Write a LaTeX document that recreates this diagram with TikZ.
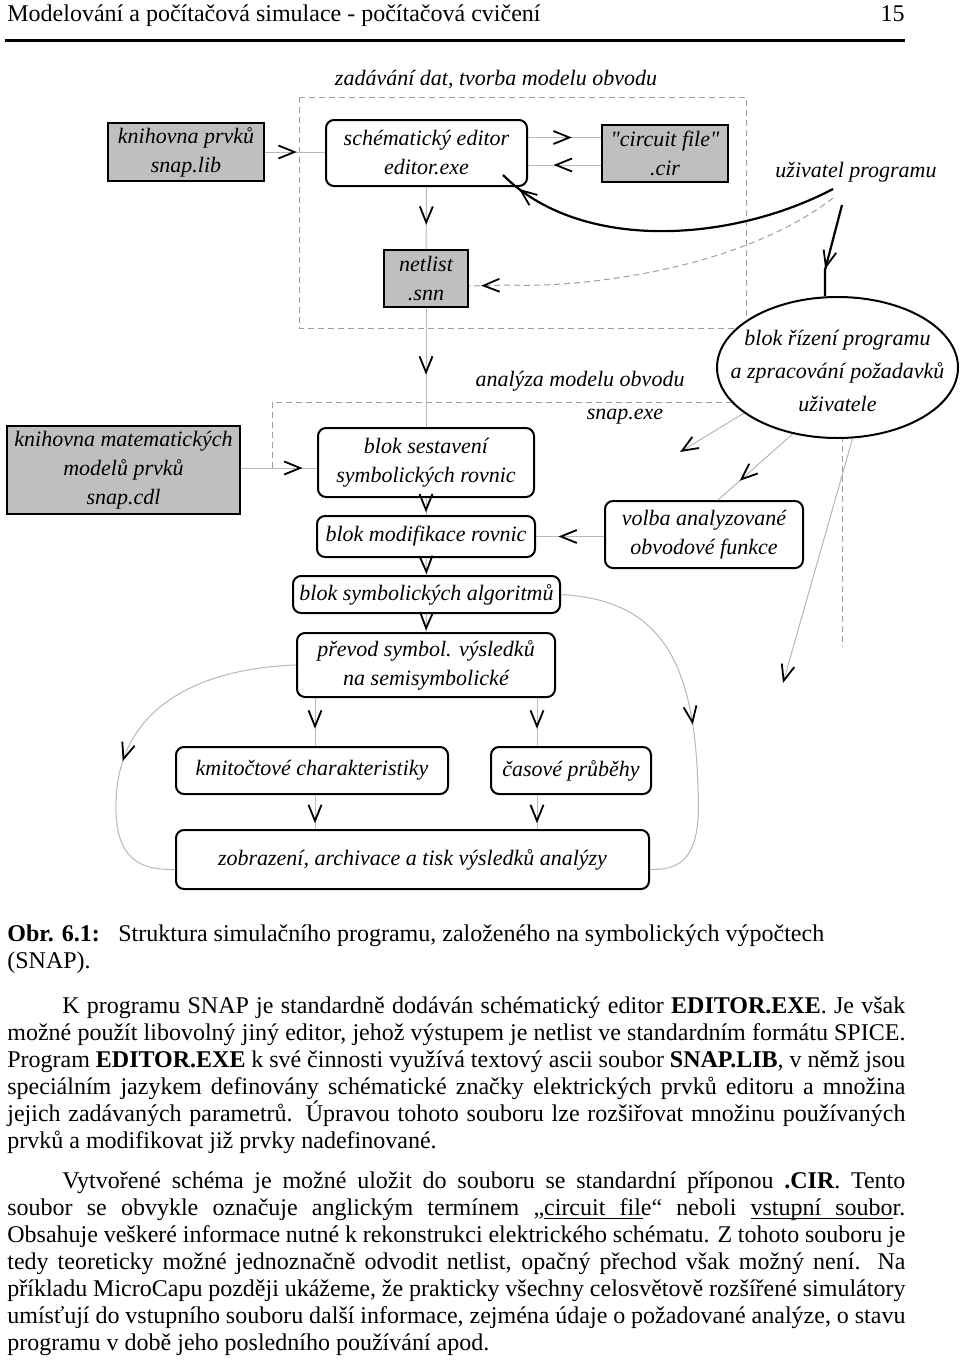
\documentclass[tikz,border=0pt]{standalone}
\usepackage{fontspec}
\setmainfont{Liberation Serif}
\newfontfamily\rawserif{Liberation Serif}
\usepackage{tikz}
\tikzset{>=latex}
\usetikzlibrary{backgrounds, arrows.meta}
\usetikzlibrary{shapes.geometric, decorations.markings}
\definecolor{boxgray}{gray}{0.75}
\definecolor{linegray}{gray}{0.72}
\definecolor{dashgray}{gray}{0.62}
\def\pagewidth{960}
\def\pageheight{1360}
\def\textleft{7}
\def\textright{905}
\def\boxfont{\fontsize{11}{14.5}\selectfont\itshape}
\def\ellfont{\fontsize{11}{16.5}\selectfont\itshape}
\def\bodyfont{\fontsize{12}{13.5}\selectfont}
\newcommand\undertext[1]{\setbox0\hbox{#1}\rlap{\rule[-2pt]{\wd0}{0.5pt}}#1}
\tikzset{
  chev/.tip={Straight Barb[length=8pt, width=6.5pt, line width=0.9pt, color=black]},
  grbox/.style={draw, line width=1pt, fill=boxgray, font=\boxfont, align=center, inner sep=0pt},
  rbox/.style={draw, line width=1pt, rounded corners=4pt, fill=white, font=\boxfont, align=center, inner sep=0pt},
  lbl/.style={font=\boxfont, align=center, inner sep=0pt},
  conn/.style={draw=linegray, line width=0.5pt},
  dline/.style={draw=dashgray, line width=0.5pt, dash pattern=on 3pt off 2pt},
  uline/.style={draw=black, line width=1.1pt},
  midarr/.style={postaction={decorate}, decoration={markings, mark=at position #1 with {\arrow{chev}}}}
}

\begin{document}
\begin{tikzpicture}[x=0.5pt, y=-0.5pt]

\useasboundingbox (0,0) rectangle (\pagewidth,\pageheight);

% Page head
\node[anchor=base west, inner sep=0pt, font=\bodyfont] (head) at (\textleft,21) {Modelování a počítačová simulace - počítačová cvičení};
\node[anchor=base east, inner sep=0pt, font=\bodyfont] (pagenum) at (\textright,21) {15};
\draw[line width=1.5pt] (5,40) -- (905,40);

% Editor part
\node[lbl] (zadavani) at (496,80) {zadávání dat, tvorba modelu obvodu};
\node[grbox, minimum width=78pt, minimum height=29pt] (slib) at (186,152) {knihovna prvků\\snap.lib};
\node[rbox, minimum width=100.5pt, minimum height=33pt] (editor) at (426.5,153) {schématický editor\\editor.exe};
\node[grbox, minimum width=63pt, minimum height=28.5pt] (cir) at (665,153.5) {{\rawserif "circuit file"}\\.cir};
\node[grbox, minimum width=42pt, minimum height=28.5pt] (netlist) at (426,278.5) {netlist\\.snn};
\node[lbl] (uzivatel) at (856,172) {uživatel programu};

% Analysis part
\node[lbl] (analyza) at (580,381) {analýza modelu obvodu};
\node[lbl] (snapexe) at (625,417) {snap.exe};
\node[draw, ellipse, line width=1pt, fill=white, minimum width=120.5pt, minimum height=70.5pt, inner sep=0pt] (ctrl) at (837.5,367.5) {};
\node[lbl, font=\ellfont] (ctrltxt) at (837.5,371) {blok řízení programu\\a zpracování požadavků\\uživatele};
\node[grbox, minimum width=116.5pt, minimum height=44pt] (cdl) at (123.5,470) {knihovna matematických\\modelů prvků\\snap.cdl};
\node[rbox, minimum width=108pt, minimum height=34.5pt] (sestav) at (426,462.5) {blok sestavení\\symbolických rovnic};
\node[rbox, minimum width=109pt, minimum height=20.5pt] (modif) at (426,536.5) {blok modifikace rovnic};
\node[rbox, minimum width=99pt, minimum height=33.5pt] (volba) at (704,534.5) {volba analyzované\\obvodové funkce};
\node[rbox, minimum width=133.5pt, minimum height=18.5pt] (algor) at (426.5,594.5) {blok symbolických algoritmů};
\node[rbox, minimum width=129pt, minimum height=32pt] (prevod) at (426,665) {převod symbol. výsledků\\na semisymbolické};

% Results part
\node[rbox, minimum width=136pt, minimum height=23.5pt] (kmit) at (312,770.5) {kmitočtové charakteristiky};
\node[rbox, minimum width=80pt, minimum height=23.5pt] (casove) at (571,770.5) {časové průběhy};
\node[rbox, minimum width=236.5pt, minimum height=29.5pt] (zobraz) at (412.5,859.5) {zobrazení, archivace a tisk výsledků analýzy};

% Dashed frames
\begin{scope}[on background layer]
\fill[white] (0,0) rectangle (\pagewidth,\pageheight);
\draw[dline] (299,97) rectangle (746,328);
\draw[dline] (272,468) -- (272,402) -- (842,402) -- (842,647);
\end{scope}

% Helper points
\coordinate (hup) at (0,137.5);
\coordinate (hlow) at (0,165);
\coordinate (hcdl) at (0,468);
\coordinate (hnet) at (0,286);
\coordinate (kl) at (315,0);
\coordinate (kr) at (537,0);
\coordinate (usr1) at (833,189);
\coordinate (usr2) at (833,198);
\coordinate (usr3) at (842,205);
\coordinate (kink) at (825,270);
\coordinate (edcorner) at (503,175);
\coordinate (dn1) at (510,285);
\coordinate (freea) at (680,452);
\coordinate (freeb) at (783,683);
\coordinate (lc) at (116,800);
\coordinate (rc) at (698,790);

% Top connectors
\draw[conn, midarr=0.53] (slib.east) -- (editor.west |- slib.east);
\draw[conn, midarr=0.6] (editor.east |- hup) -- (cir.west |- hup);
\draw[conn, midarr=0.65] (cir.west |- hlow) -- (editor.east |- hlow);
\draw[conn, midarr=0.61] (editor.south) -- (netlist.north);
\draw[uline, midarr=0.94] (usr1) .. controls (730,243) and (580,252) .. (edcorner);
\draw[dline, midarr=0.968] (usr2) .. controls (740,270) and (580,288) .. (dn1) -- (netlist.east |- hnet);
\draw[uline, midarr=0.71] (usr3) -- (kink) -- (kink |- ctrl.north);

% Middle connectors
\draw[conn, midarr=0.56] (netlist.south) -- (sestav.north);
\draw[conn, midarr=0.81] (cdl.east |- hcdl) -- (sestav.west |- hcdl);
\draw[conn, midarr=0.84] (sestav.south) -- (modif.north);
\draw[conn, midarr=0.95] (modif.south) -- (algor.north);
\draw[conn, midarr=0.92] (algor.south) -- (prevod.north);
\draw[conn, -{chev}] (ctrl.206) -- (freea);
\draw[conn, midarr=0.71] (ctrl.236) -- ([xshift=7pt]volba.north);
\draw[conn, -{chev}] (ctrl.282) -- (freeb);
\draw[conn, midarr=0.67] (volba.west |- modif.east) -- (modif.east);

% Bottom connectors
\draw[conn, midarr=0.64] (prevod.south -| kl) -- (kmit.north -| kl);
\draw[conn, midarr=0.64] (prevod.south -| kr) -- (casove.north -| kr);
\draw[conn, midarr=0.83] (kmit.south -| kl) -- (zobraz.north -| kl);
\draw[conn, midarr=0.83] (casove.south -| kr) -- (zobraz.north -| kr);
\draw[conn, midarr=0.59] (prevod.west) .. controls (210,668) and (120,700) .. (lc) .. controls (114,860) and (140,870) .. ([yshift=-5pt]zobraz.west);
\draw[conn, midarr=0.54] (algor.east) .. controls (660,600) and (695,660) .. (rc) .. controls (702,860) and (680,870) .. ([yshift=-5pt]zobraz.east);

% Caption and text
\node[anchor=base west, inner sep=0pt, font=\bodyfont] (caption) at (\textleft,941) {\vtop{\hsize=449pt\parindent=0pt
\makebox[55.5pt][l]{\textbf{Obr. 6.1:}}Struktura simulačního programu, založeného na symbolických výpočtech\\(SNAP).}};

\node[anchor=base west, inner sep=0pt, font=\bodyfont] (body) at (\textleft,1013) {\vtop{\hsize=449pt\parindent=27.5pt\parskip=6.5pt\tolerance=10000
K programu SNAP je standardně dodáván schématický editor \textbf{EDITOR.EXE}. Je však\linebreak
možné použít libovolný jiný editor, jehož výstupem je netlist ve standardním formátu SPICE.\linebreak
Program \textbf{EDITOR.EXE} k své činnosti využívá textový ascii soubor \textbf{SNAP.LIB}, v němž jsou\linebreak
speciálním jazykem definovány schématické značky elektrických prvků editoru a množina\linebreak
jejich zadávaných parametrů. Úpravou tohoto souboru lze rozšiřovat množinu používaných\linebreak
prvků a modifikovat již prvky nadefinované.\par
Vytvořené schéma je možné uložit do souboru se standardní příponou \textbf{.CIR}. Tento\linebreak
soubor se obvykle označuje anglickým termínem „\undertext{circuit file}“ neboli \undertext{vstupní soubor}.\linebreak
Obsahuje veškeré informace nutné k rekonstrukci elektrického schématu. Z tohoto souboru je\linebreak
tedy teoreticky možné jednoznačně odvodit netlist, opačný přechod však možný není. Na\linebreak
příkladu MicroCapu později ukážeme, že prakticky všechny celosvětově rozšířené simulátory\linebreak
umísťují do vstupního souboru další informace, zejména údaje o požadované analýze, o stavu\linebreak
programu v době jeho posledního používání apod.}};

\end{tikzpicture}
\end{document}
